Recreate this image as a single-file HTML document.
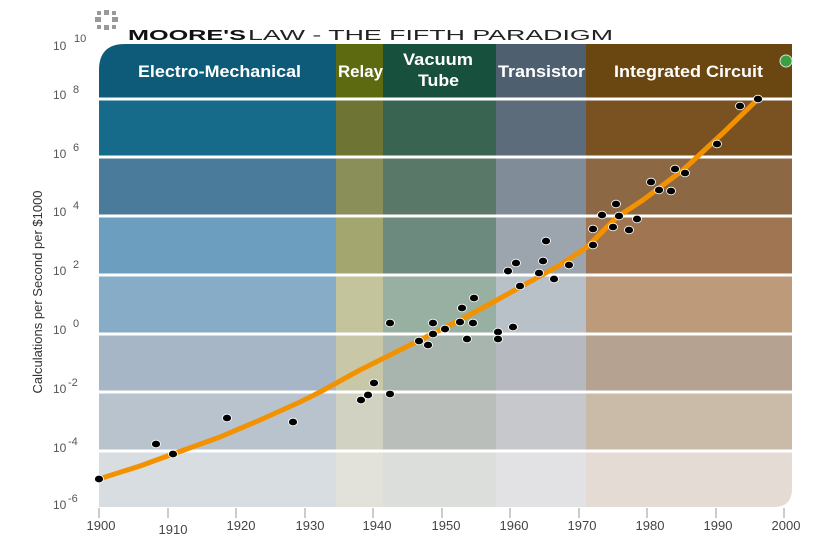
<!DOCTYPE html>
<html><head><meta charset="utf-8"><style>
body{margin:0;background:#fff}
svg{display:block}
text{font-family:"Liberation Sans","DejaVu Sans",sans-serif}
</style></head><body>
<svg width="820" height="549" viewBox="0 0 820 549" xmlns="http://www.w3.org/2000/svg">
<defs>
<clipPath id="pc"><path d="M99,70 Q99,44 125,44 L792,44 L792,489 Q792,507 774,507 L99,507 Z"/></clipPath>
</defs>
<g fill="#999">
<rect x="104" y="10" width="5" height="5"/><rect x="104" y="25" width="5" height="5"/>
<rect x="95" y="17" width="6" height="5"/><rect x="112" y="17" width="6" height="5"/>
<rect x="97" y="11" width="4" height="4"/><rect x="112" y="11" width="4" height="4"/>
<rect x="97" y="25" width="4" height="4"/><rect x="112" y="25" width="4" height="4"/>
</g>
<text x="128" y="40" font-size="15" font-weight="bold" fill="#111" textLength="118" lengthAdjust="spacingAndGlyphs">MOORE'S</text>
<text x="248" y="40" font-size="15" fill="#222" textLength="365" lengthAdjust="spacingAndGlyphs">LAW - THE FIFTH PARADIGM</text>
<g clip-path="url(#pc)">
<g>
<rect x="99" y="44" width="237" height="56" fill="#0d5b79"/>
<rect x="99" y="100" width="237" height="58" fill="#166b8a"/>
<rect x="99" y="158" width="237" height="58" fill="#4b7b9a"/>
<rect x="99" y="216" width="237" height="59" fill="#6c9ec0"/>
<rect x="99" y="275" width="237" height="59" fill="#86acc8"/>
<rect x="99" y="334" width="237" height="58" fill="#a6b6c6"/>
<rect x="99" y="392" width="237" height="59" fill="#b8c3ce"/>
<rect x="99" y="451" width="237" height="56" fill="#d8dde2"/>
</g>
<g>
<rect x="336" y="44" width="47" height="56" fill="#5e6a10"/>
<rect x="336" y="100" width="47" height="58" fill="#6e7534"/>
<rect x="336" y="158" width="47" height="58" fill="#8a8e58"/>
<rect x="336" y="216" width="47" height="59" fill="#a4a670"/>
<rect x="336" y="275" width="47" height="59" fill="#c4c49c"/>
<rect x="336" y="334" width="47" height="58" fill="#c8c8a8"/>
<rect x="336" y="392" width="47" height="59" fill="#d2d2c2"/>
<rect x="336" y="451" width="47" height="56" fill="#e2e2da"/>
</g>
<g>
<rect x="383" y="44" width="113" height="56" fill="#17503c"/>
<rect x="383" y="100" width="113" height="58" fill="#3a6452"/>
<rect x="383" y="158" width="113" height="58" fill="#5a7868"/>
<rect x="383" y="216" width="113" height="59" fill="#6c8a7e"/>
<rect x="383" y="275" width="113" height="59" fill="#98b0a2"/>
<rect x="383" y="334" width="113" height="58" fill="#a8b4ae"/>
<rect x="383" y="392" width="113" height="59" fill="#babebb"/>
<rect x="383" y="451" width="113" height="56" fill="#dcdedc"/>
</g>
<g>
<rect x="496" y="44" width="90" height="56" fill="#4e6070"/>
<rect x="496" y="100" width="90" height="58" fill="#5c6c7a"/>
<rect x="496" y="158" width="90" height="58" fill="#808c98"/>
<rect x="496" y="216" width="90" height="59" fill="#9ca4ae"/>
<rect x="496" y="275" width="90" height="59" fill="#b8c0c8"/>
<rect x="496" y="334" width="90" height="58" fill="#b6b9c0"/>
<rect x="496" y="392" width="90" height="59" fill="#c6c8cc"/>
<rect x="496" y="451" width="90" height="56" fill="#e2e2e4"/>
</g>
<g>
<rect x="586" y="44" width="206" height="56" fill="#6a4610"/>
<rect x="586" y="100" width="206" height="58" fill="#7a5222"/>
<rect x="586" y="158" width="206" height="58" fill="#8c6844"/>
<rect x="586" y="216" width="206" height="59" fill="#a07652"/>
<rect x="586" y="275" width="206" height="59" fill="#bc9a7a"/>
<rect x="586" y="334" width="206" height="58" fill="#b6a290"/>
<rect x="586" y="392" width="206" height="59" fill="#cabaa8"/>
<rect x="586" y="451" width="206" height="56" fill="#e3dbd4"/>
</g>
<g stroke="#fff" stroke-width="3">
<line x1="99" y1="99" x2="792" y2="99"/><line x1="99" y1="157" x2="792" y2="157"/>
<line x1="99" y1="216" x2="792" y2="216"/><line x1="99" y1="275" x2="792" y2="275"/>
<line x1="99" y1="334" x2="792" y2="334"/><line x1="99" y1="392" x2="792" y2="392"/>
<line x1="99" y1="451" x2="792" y2="451"/>
</g>
</g>
<g fill="#fff" font-weight="bold" font-size="17">
<text x="138" y="77" textLength="163" lengthAdjust="spacingAndGlyphs">Electro-Mechanical</text>
<text x="338" y="77" textLength="45" lengthAdjust="spacingAndGlyphs">Relay</text>
<text x="403" y="65" textLength="70" lengthAdjust="spacingAndGlyphs">Vacuum</text>
<text x="418" y="86" textLength="41" lengthAdjust="spacingAndGlyphs">Tube</text>
<text x="498" y="77" textLength="87" lengthAdjust="spacingAndGlyphs">Transistor</text>
<text x="614" y="77" textLength="149" lengthAdjust="spacingAndGlyphs">Integrated Circuit</text>
</g>
<polyline fill="none" stroke="#f39200" stroke-width="5" stroke-linejoin="round" stroke-linecap="round" points="99,479 140,466 173,454 220,437 260,420 300,402 320,392 360,370 400,350 420,340 460,320 497,300 533,280 560,265 587,247 617,217 643,200 683,170 723,133 757,100"/>
<g fill="#000" stroke="#fff" stroke-width="0.8">
<ellipse cx="99" cy="479" rx="4.5" ry="3.8"/><ellipse cx="156" cy="444" rx="4.5" ry="3.8"/>
<ellipse cx="173" cy="454" rx="4.5" ry="3.8"/><ellipse cx="227" cy="418" rx="4.5" ry="3.8"/>
<ellipse cx="293" cy="422" rx="4.5" ry="3.8"/><ellipse cx="361" cy="400" rx="4.5" ry="3.8"/>
<ellipse cx="368" cy="395" rx="4.5" ry="3.8"/><ellipse cx="374" cy="383" rx="4.5" ry="3.8"/>
<ellipse cx="390" cy="394" rx="4.5" ry="3.8"/><ellipse cx="390" cy="323" rx="4.5" ry="3.8"/>
<ellipse cx="419" cy="341" rx="4.5" ry="3.8"/><ellipse cx="428" cy="345" rx="4.5" ry="3.8"/>
<ellipse cx="433" cy="323" rx="4.5" ry="3.8"/><ellipse cx="433" cy="334" rx="4.5" ry="3.8"/>
<ellipse cx="445" cy="329" rx="4.5" ry="3.8"/><ellipse cx="460" cy="322" rx="4.5" ry="3.8"/>
<ellipse cx="462" cy="308" rx="4.5" ry="3.8"/><ellipse cx="467" cy="339" rx="4.5" ry="3.8"/>
<ellipse cx="473" cy="323" rx="4.5" ry="3.8"/><ellipse cx="474" cy="298" rx="4.5" ry="3.8"/>
<ellipse cx="498" cy="332" rx="4.5" ry="3.8"/><ellipse cx="498" cy="339" rx="4.5" ry="3.8"/>
<ellipse cx="513" cy="327" rx="4.5" ry="3.8"/><ellipse cx="508" cy="271" rx="4.5" ry="3.8"/>
<ellipse cx="516" cy="263" rx="4.5" ry="3.8"/><ellipse cx="520" cy="286" rx="4.5" ry="3.8"/>
<ellipse cx="539" cy="273" rx="4.5" ry="3.8"/><ellipse cx="543" cy="261" rx="4.5" ry="3.8"/>
<ellipse cx="546" cy="241" rx="4.5" ry="3.8"/><ellipse cx="554" cy="279" rx="4.5" ry="3.8"/>
<ellipse cx="569" cy="265" rx="4.5" ry="3.8"/><ellipse cx="593" cy="229" rx="4.5" ry="3.8"/>
<ellipse cx="593" cy="245" rx="4.5" ry="3.8"/><ellipse cx="602" cy="215" rx="4.5" ry="3.8"/>
<ellipse cx="613" cy="227" rx="4.5" ry="3.8"/><ellipse cx="616" cy="204" rx="4.5" ry="3.8"/>
<ellipse cx="619" cy="216" rx="4.5" ry="3.8"/><ellipse cx="629" cy="230" rx="4.5" ry="3.8"/>
<ellipse cx="637" cy="219" rx="4.5" ry="3.8"/><ellipse cx="651" cy="182" rx="4.5" ry="3.8"/>
<ellipse cx="659" cy="190" rx="4.5" ry="3.8"/><ellipse cx="671" cy="191" rx="4.5" ry="3.8"/>
<ellipse cx="675" cy="169" rx="4.5" ry="3.8"/><ellipse cx="685" cy="173" rx="4.5" ry="3.8"/>
<ellipse cx="717" cy="144" rx="4.5" ry="3.8"/><ellipse cx="740" cy="106" rx="4.5" ry="3.8"/>
<ellipse cx="758" cy="99" rx="4.5" ry="3.8"/>
</g>
<circle cx="786" cy="61" r="6" fill="#3aa040" stroke="#ddd" stroke-width="1"/>
<g fill="#555" font-size="12">
<text x="53" y="50">10</text><text x="74" y="42" font-size="11">10</text>
<text x="53" y="99">10</text><text x="73" y="93" font-size="11">8</text>
<text x="53" y="158">10</text><text x="73" y="151" font-size="11">6</text>
<text x="53" y="216">10</text><text x="73" y="209" font-size="11">4</text>
<text x="53" y="275">10</text><text x="73" y="268" font-size="11">2</text>
<text x="53" y="334">10</text><text x="73" y="327" font-size="11">0</text>
<text x="53" y="393">10</text><text x="68" y="386" font-size="11">-2</text>
<text x="53" y="452">10</text><text x="68" y="445" font-size="11">-4</text>
<text x="53" y="509">10</text><text x="68" y="502" font-size="11">-6</text>
</g>
<text transform="translate(42,292) rotate(-90)" text-anchor="middle" font-size="13" fill="#333">Calculations per Second per $1000</text>
<g stroke="#999" stroke-width="1">
<line x1="99" y1="508" x2="99" y2="518"/><line x1="168" y1="508" x2="168" y2="518"/>
<line x1="236" y1="508" x2="236" y2="518"/><line x1="305" y1="508" x2="305" y2="518"/>
<line x1="373" y1="508" x2="373" y2="518"/><line x1="442" y1="508" x2="442" y2="518"/>
<line x1="510" y1="508" x2="510" y2="518"/><line x1="579" y1="508" x2="579" y2="518"/>
<line x1="647" y1="508" x2="647" y2="518"/><line x1="716" y1="508" x2="716" y2="518"/>
<line x1="784" y1="508" x2="784" y2="518"/>
</g>
<g fill="#444" font-size="13" text-anchor="middle">
<text x="101" y="530">1900</text><text x="173" y="534">1910</text><text x="241" y="530">1920</text>
<text x="310" y="530">1930</text><text x="377" y="530">1940</text><text x="446" y="530">1950</text>
<text x="514" y="530">1960</text><text x="582" y="530">1970</text><text x="650" y="530">1980</text>
<text x="718" y="530">1990</text><text x="786" y="530">2000</text>
</g>
</svg>
</body></html>
